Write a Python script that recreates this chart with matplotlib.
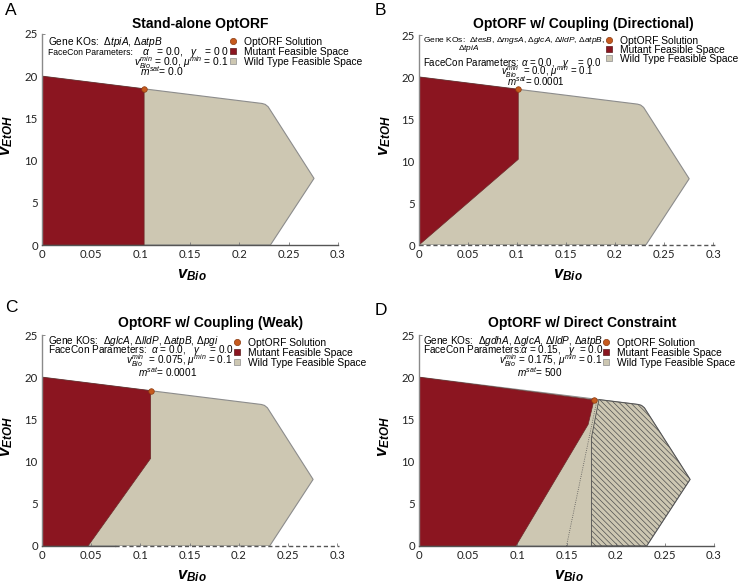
import numpy as np
import matplotlib.pyplot as plt
from matplotlib.lines import Line2D

plt.rcParams['font.family'] = ['Liberation Sans', 'DejaVu Sans']
plt.rcParams['mathtext.fontset'] = 'custom'
plt.rcParams['mathtext.rm'] = 'Liberation Sans'
plt.rcParams['mathtext.it'] = 'Liberation Sans:italic'
plt.rcParams['mathtext.bf'] = 'Liberation Sans:italic:bold'
plt.rcParams['hatch.linewidth'] = 0.5

W, H = 739, 585

# wild type feasible space (same in all panels)
wt_bio = [0, 0, 0.223, 0.2262, 0.2292, 0.2757, 0.2315]
wt_etoh = [0, 20, 16.77, 16.66, 16.38, 7.89, 0]

# mutant feasible spaces
mut_bio = {
    'A': [0, 0, 0.1035, 0.1035],
    'B': [0, 0, 0.1013, 0.1013],
    'C': [0.0468, 0, 0, 0.1105, 0.1105],
    'D': [0.0985, 0, 0, 0.178, 0.172],
}
mut_etoh = {
    'A': [0, 20, 18.5, 0],
    'B': [0, 20, 18.53, 10.2],
    'C': [0, 0, 20, 18.4, 10.38],
    'D': [0, 0, 20, 17.3, 14.4],
}

# OptORF solutions
sol_bio = [0.1035, 0.1013, 0.1105, 0.178]
sol_etoh = [18.5, 18.53, 18.4, 17.3]

# direct constraint region (panel D)
hatch_bio = [0.1755, 0.1755, 0.183, 0.223, 0.2262, 0.2292, 0.2757, 0.2315]
hatch_etoh = [0, 12.9, 17.35, 16.77, 16.66, 16.38, 7.89, 0]
bound_bio = [0.150, 0.181]
bound_etoh = [0, 17.3]

# dashed part of the x axis (B, C)
dash_start = {'B': 0.0, 'C': 0.074}

titles = ['Stand-alone OptORF', 'OptORF w/ Coupling (Directional)',
          'OptORF w/ Coupling (Weak)', 'OptORF w/ Direct Constraint']
letters = ['A', 'B', 'C', 'D']
xticks = [0, 0.05, 0.1, 0.15, 0.2, 0.25, 0.3]
xticklabels = ['0', '0.05', '0.1', '0.15', '0.2', '0.25', '0.3']
yticks = [0, 5, 10, 15, 20, 25]
legend_labels = ['OptORF Solution', 'Mutant Feasible Space', 'Wild Type Feasible Space']

red = '#8B1520'
beige = '#CDC7B2'
orange = '#C65A1E'

# pixel layout: axes boxes (left, top, right, bottom)
boxes = {'A': (42, 34, 338, 245), 'B': (419, 35, 713, 245),
         'C': (42, 335, 337, 546), 'D': (419, 335, 714, 546)}
title_pos = {'A': (200, 28), 'B': (583, 28), 'C': (211, 327), 'D': (582, 327)}
letter_pos = {'A': (5, 15), 'B': (375, 15), 'C': (5, 312), 'D': (375, 315)}
legend_pos = {'A': (233, 40, 9), 'B': (609, 39, 8), 'C': (237, 340.5, 9), 'D': (606, 340.5, 9)}

# annotation lines: x, baseline y, text, size, ha
notes = {
    'A': [
        (48, 45, 'Gene KOs:  Δ$\\mathit{tpiA}$, Δ$\\mathit{atpB}$', 7.3, 'left'),
        (48, 55, 'FaceCon Parameters:', 6.2, 'left'),
        (229, 55, '$\\alpha$   = 0.0,   $\\gamma$   = 0 0', 7.4, 'right'),
        (228, 66, '$v^{min}_{Bio}$ = 0.0, $\\mu^{min}$ = 0.1', 7.4, 'right'),
        (140, 76, '$m^{sat}$= 0.0', 7.4, 'left'),
    ],
    'B': [
        (423, 42.5, 'Gene KOs:  Δ$\\mathit{tesB}$, Δ$\\mathit{mgsA}$, Δ$\\mathit{glcA}$, '
                    'Δ$\\mathit{lldP}$, Δ$\\mathit{atpB}$,', 6.0, 'left'),
        (458, 50.5, 'Δ$\\mathit{tpiA}$', 6.0, 'left'),
        (423, 65.5, 'FaceCon Parameters: $\\alpha$ = 0.0,   $\\gamma$    = 0.0', 7.0, 'left'),
        (594, 75.5, '$v^{min}_{Bio}$  = 0.0, $\\mu^{min}$ = 0.1', 7.0, 'right'),
        (507, 86.5, '$m^{sat}$= 0.0001', 7.0, 'left'),
    ],
    'C': [
        (48, 343.5, 'Gene KOs:  Δ$\\mathit{glcA}$, Δ$\\mathit{lldP}$, Δ$\\mathit{atpB}$, '
                    'Δ$\\mathit{pgi}$', 7.2, 'left'),
        (48, 353, 'FaceCon Parameters:  $\\alpha$ = 0.0,   $\\gamma$    = 0.0', 7.2, 'left'),
        (232, 364, '$v^{min}_{Bio}$  = 0.075, $\\mu^{min}$ = 0.1', 7.2, 'right'),
        (138, 377, '$m^{sat}$= 0.0001', 7.2, 'left'),
    ],
    'D': [
        (423, 343.5, 'Gene KOs:  Δ$\\mathit{gdhA}$, Δ$\\mathit{glcA}$, Δ$\\mathit{lldP}$, '
                     'Δ$\\mathit{atpB}$', 7.2, 'left'),
        (423, 353, 'FaceCon Parameters:$\\alpha$ = 0.15,   $\\gamma$  = 0.0', 7.2, 'left'),
        (602, 364, '$v^{min}_{Bio}$ = 0.175, $\\mu^{min}$ = 0.1', 7.2, 'right'),
        (517, 377, '$m^{sat}$= 500', 7.2, 'left'),
    ],
}

fig = plt.figure(figsize=(W / 100, H / 100), dpi=100)

for i, key in enumerate(letters):
    l, t, r, b = boxes[key]
    ax = fig.add_axes([l / W, 1 - b / H, (r - l) / W, (b - t) / H])
    ax.set_xlim(0, 0.3)
    ax.set_ylim(0, 25)

    ax.fill(wt_bio, wt_etoh, facecolor=beige, edgecolor='#8c8c8c', lw=0.8, zorder=1)
    ax.fill(mut_bio[key], mut_etoh[key], facecolor=red, edgecolor='#6a2a2a', lw=0.5, zorder=2)
    if key == 'D':
        ax.fill(hatch_bio, hatch_etoh, facecolor='none', edgecolor='#505050',
                hatch='\\' * 6, lw=0.6, zorder=3)
        ax.plot(bound_bio, bound_etoh, color='#555555', lw=0.6, ls=':', zorder=3)
    ax.plot(sol_bio[i], sol_etoh[i], 'o', ms=4, color=orange, mec='#8a3a10', mew=0.5, zorder=5)

    for s in ['top', 'right']:
        ax.spines[s].set_visible(False)
    ax.spines['left'].set_color('#8a8a8a')
    ax.spines['left'].set_linewidth(1.0)
    ax.spines['bottom'].set_color('#555555')
    ax.spines['bottom'].set_linewidth(1.0)
    if key in dash_start:
        ax.spines['bottom'].set_visible(False)
        x0 = dash_start[key]
        if x0 > 0:
            ax.plot([0, x0], [0, 0], color='#555555', lw=1.0, clip_on=False, zorder=4)
        ax.plot([x0, 0.302], [0, 0], color='#555555', lw=1.0, ls=(0, (3, 2)),
                clip_on=False, zorder=4)

    ax.set_xticks(xticks)
    ax.set_xticklabels(xticklabels)
    ax.set_yticks(yticks)
    ax.tick_params(direction='in', length=2, width=0.6, color='#777777',
                   labelsize=8.2, labelcolor='#222222', pad=3)
    for lab in ax.get_xticklabels() + ax.get_yticklabels():
        lab.set_family(['Lato', 'DejaVu Sans'])

    ax.set_xlabel('$\\mathbf{v}_{\\mathbf{Bio}}$', fontsize=12)
    ax.xaxis.set_label_coords(0.507, -0.105)
    ax.set_ylabel('$\\mathbf{v}_{\\mathbf{EtOH}}$', fontsize=12)
    ax.yaxis.set_label_coords(-0.09, 0.52)

    # legend
    mx, my, dy = legend_pos[key]
    handles = [
        Line2D([], [], ls='none', marker='o', ms=4.5, color=orange, mec='#8a3a10', mew=0.5),
        Line2D([], [], ls='none', marker='s', ms=5, color=red, mec='#5a1a1a', mew=0.5),
        Line2D([], [], ls='none', marker='s', ms=5, color=beige, mec='#8c8c8c', mew=0.5),
    ]
    fs = 7.4
    hl = 0.8
    ls = (dy - 9.0) / (fs * 1.389)
    leg = ax.legend(handles, legend_labels, loc='upper left', frameon=False,
                    fontsize=fs, handlelength=hl, handletextpad=0.7,
                    labelspacing=ls, borderpad=0, borderaxespad=0,
                    bbox_to_anchor=((mx - hl * fs * 1.389 / 2) / W, 1 - (my - 3) / H),
                    bbox_transform=fig.transFigure)

    # titles, letters and annotations
    tx, ty = title_pos[key]
    fig.text(tx / W, 1 - ty / H, titles[i], ha='center', va='baseline',
             fontsize=10, fontweight='bold')
    lx, ly = letter_pos[key]
    fig.text(lx / W, 1 - ly / H, key, ha='left', va='baseline', fontsize=12.5)
    for x, y, s, size, ha in notes[key]:
        fig.text(x / W, 1 - y / H, s, ha=ha, va='baseline', fontsize=size)

fig.savefig('out.png', dpi=100)
